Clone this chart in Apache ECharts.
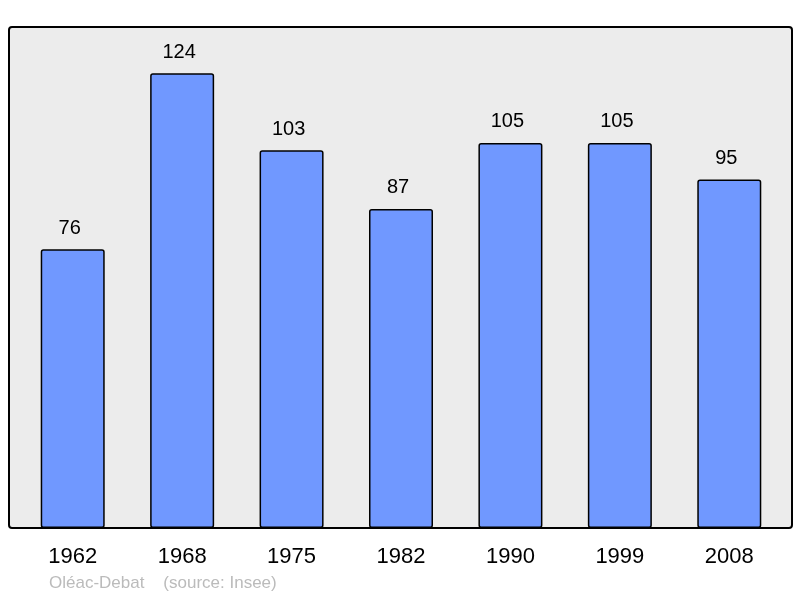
<!DOCTYPE html>
<html>
<head>
<meta charset="utf-8">
<title>Population</title>
<script src="https://cdn.jsdelivr.net/npm/echarts@6/dist/echarts.min.js"></script>
<style>
  html, body { margin: 0; padding: 0; background: #fff; }
  #chart { width: 800px; height: 598px; }
</style>
</head>
<body>
<div id="chart"></div>
<script>
var years = ['1962', '1968', '1975', '1982', '1990', '1999', '2008'];
var population = [76, 124, 103, 87, 105, 105, 95];
var credit = 'Oléac-Debat    (source: Insee)';

var chart = echarts.init(document.getElementById('chart'), null, {renderer: 'canvas'});

chart.setOption({
    animation: false,
    grid: {left: 18, right: 16, top: 27, bottom: 70},
    graphic: [
        {
            type: 'rect',
            z: -10,
            shape: {x: 9, y: 27, width: 783, height: 501, r: 3},
            style: {fill: '#ececec', stroke: '#000', lineWidth: 2}
        },
        {
            type: 'text',
            left: 49,
            top: 575,
            style: {text: credit, fill: '#bbbbbb', font: '17px "Liberation Sans", Arial, sans-serif'}
        }
    ],
    xAxis: {
        type: 'category',
        data: years,
        axisLine: {show: false},
        axisTick: {show: false},
        axisLabel: {
            color: '#000',
            fontSize: 22,
            fontFamily: '"Liberation Sans", Arial, sans-serif',
            margin: 18
        }
    },
    yAxis: {
        type: 'value',
        min: 0,
        max: 136.6,
        show: false,
        splitLine: {show: false}
    },
    series: [{
        type: 'bar',
        data: population,
        barWidth: 64,
        itemStyle: {
            color: '#7098ff',
            borderColor: '#000',
            borderWidth: 1.5,
            borderRadius: 2
        },
        label: {
            show: true,
            position: 'top',
            distance: 11,
            offset: [-3, 0],
            color: '#000',
            fontSize: 20,
            fontFamily: '"Liberation Sans", Arial, sans-serif'
        }
    }]
});
</script>
</body>
</html>
